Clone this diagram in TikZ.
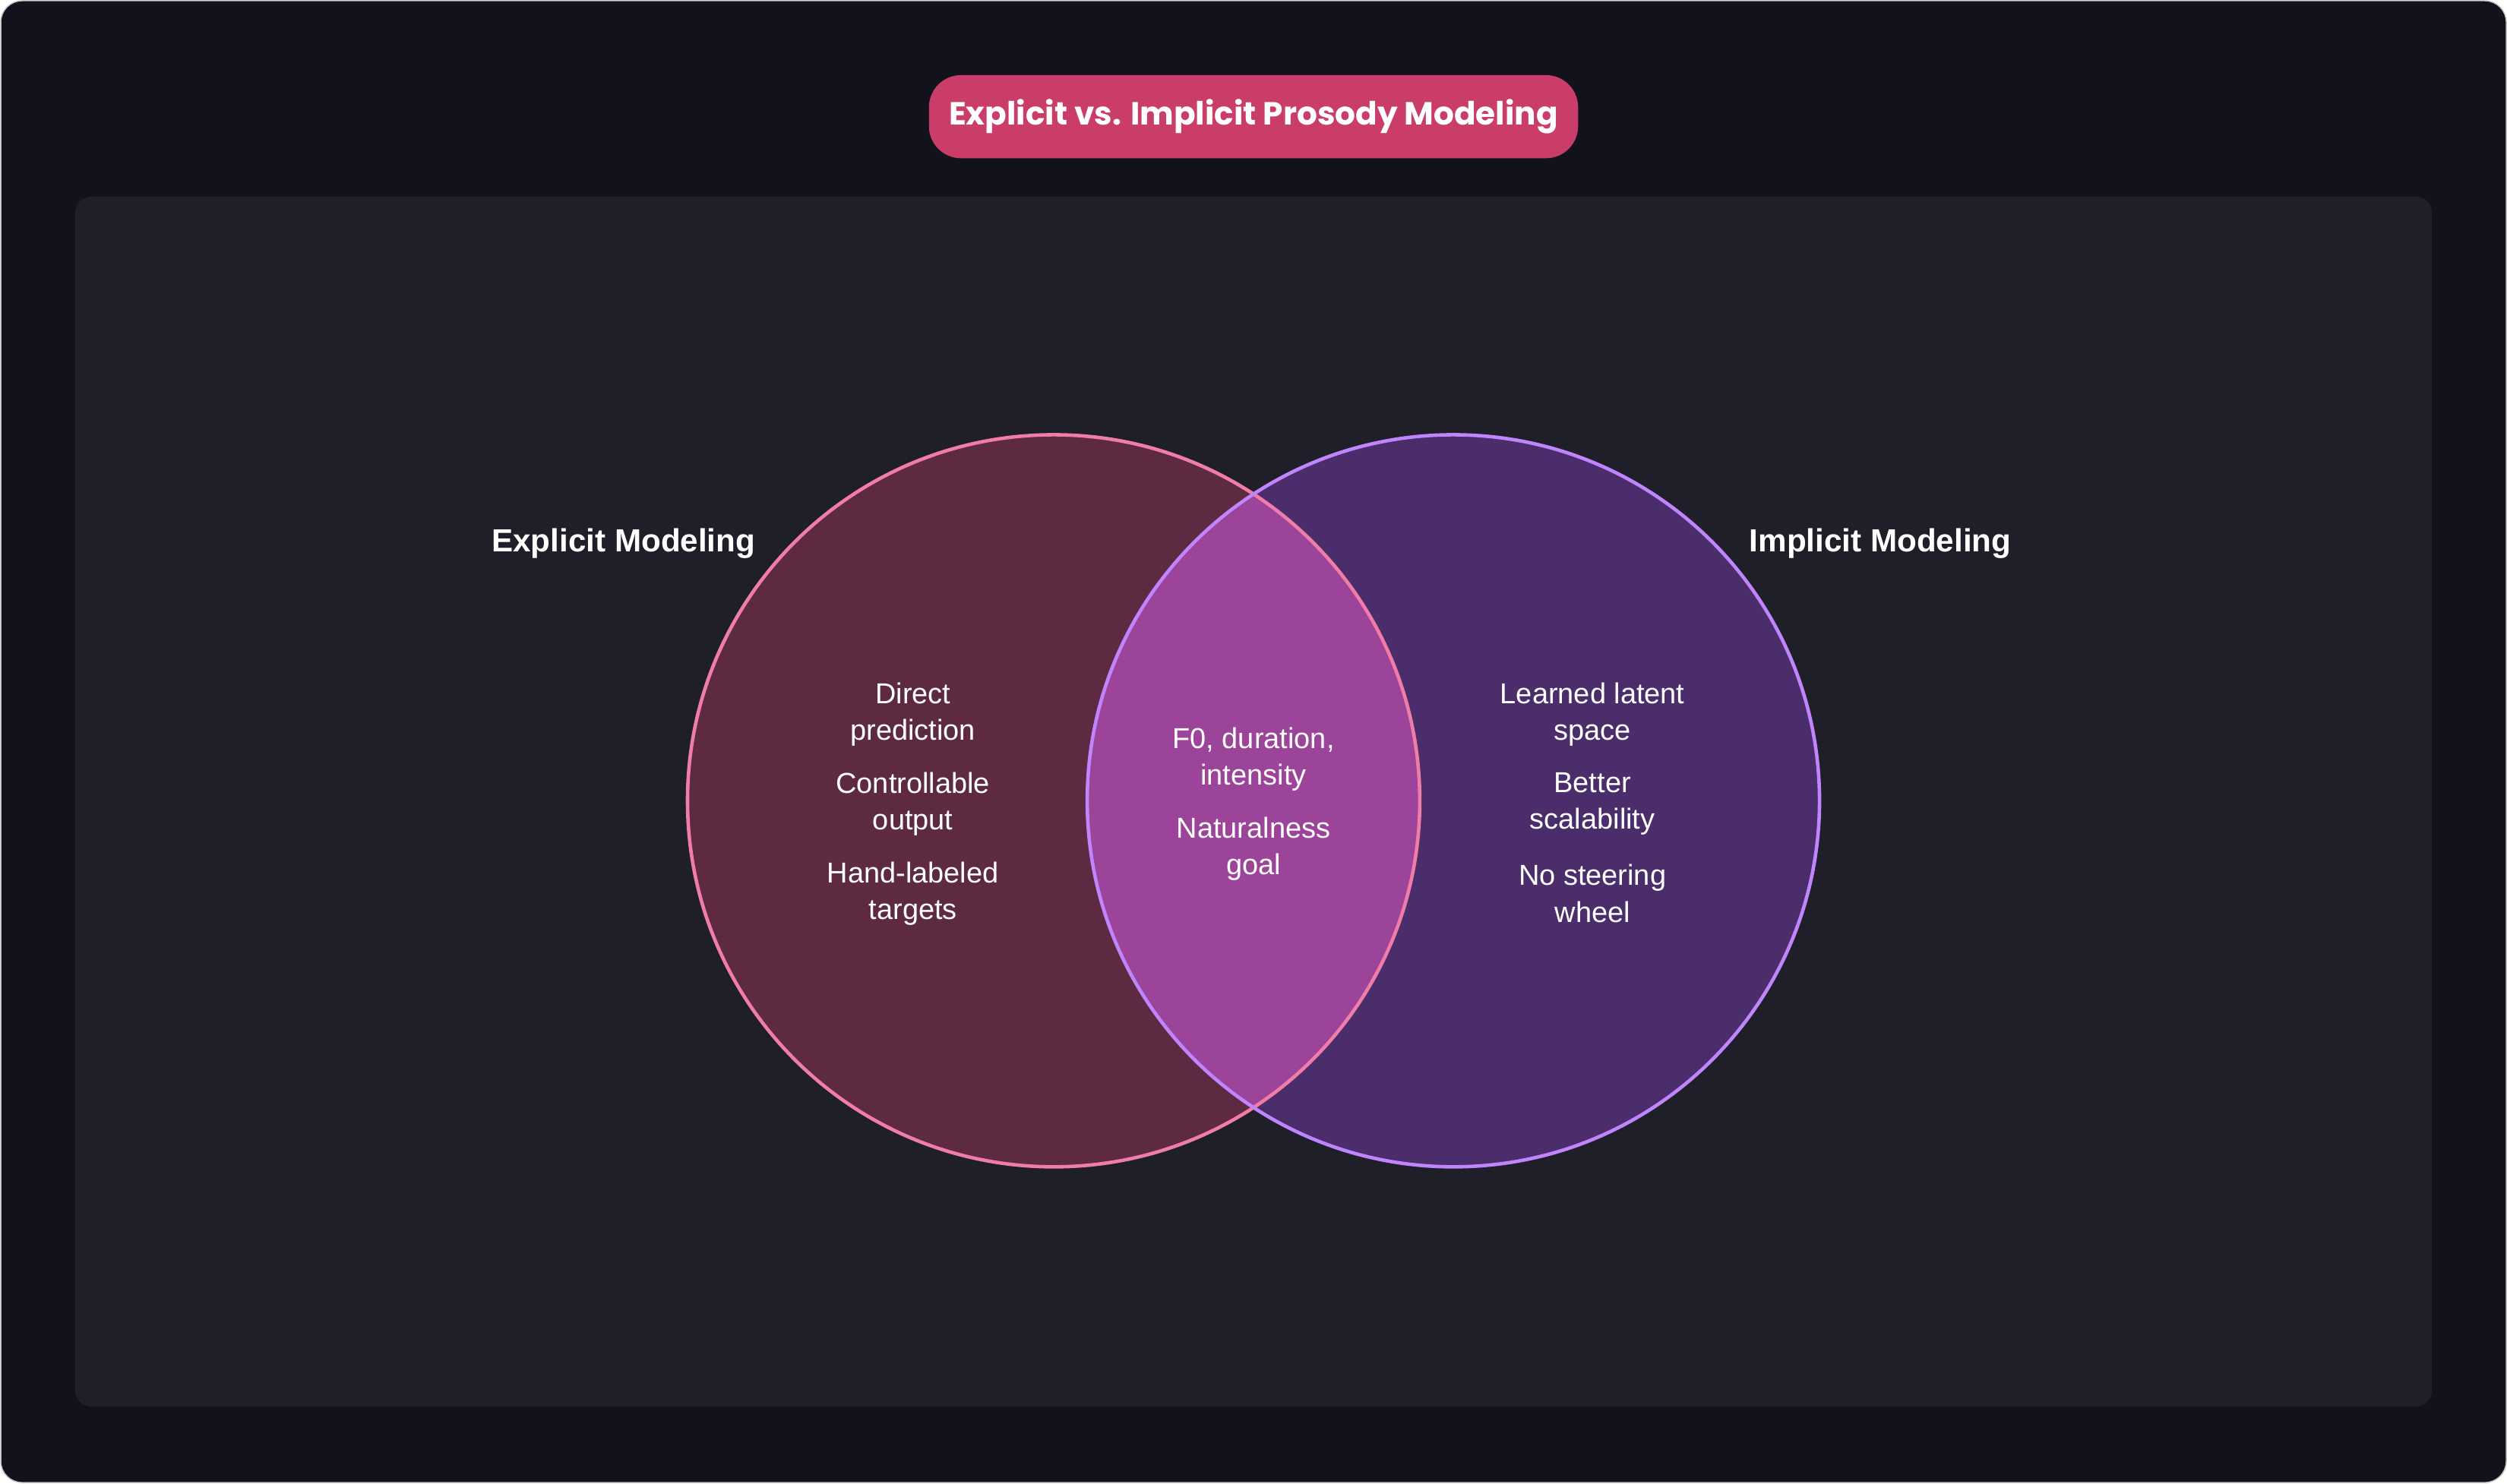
\documentclass[tikz,border=0pt]{standalone}
\usepackage{fontspec}
\setmainfont{Liberation Sans}
\newfontfamily\titlefont{Poppins}
\definecolor{pagebg}{HTML}{12121C}
\definecolor{panelbg}{HTML}{1E1F28}
\definecolor{pillred}{HTML}{C93D68}
\definecolor{explfill}{HTML}{5E2A42}
\definecolor{explline}{HTML}{F07CA8}
\definecolor{implfill}{HTML}{4A2D6A}
\definecolor{implline}{HTML}{C084FC}
\definecolor{bothfill}{HTML}{9B4499}
\begin{document}
\begin{tikzpicture}
    [
        x = 0.021047cm, y = -0.021047cm,
        item/.style = {text = white, align = center, font = \fontsize{10.8pt}{13.8pt}\selectfont},
        setlabel/.style = {text = white, font = \fontsize{12pt}{14pt}\selectfont\bfseries},
        ring/.style = {line width = 1.3pt}
    ]

        \useasboundingbox (0,0) rectangle (1568,928);
        \filldraw[fill = pagebg, draw = gray!50, rounded corners = 8pt] (0.5,0.5) rectangle (1567.5,927.5);
        \fill[panelbg, rounded corners = 6pt] (47,123) rectangle (1521,880);

        \node[fill = pillred, rounded corners = 12pt, minimum width = 406*0.021047cm,
            minimum height = 52*0.021047cm, text = white,
            font = \titlefont\fontsize{12pt}{14pt}\selectfont\bfseries] (title) at (784,73)
            {Explicit vs. Implicit Prosody Modeling};

        \coordinate (expl) at (659,501);
        \coordinate (impl) at (909,501);

        \fill[explfill] (expl) circle (229);
        \fill[implfill] (impl) circle (229);
        \begin{scope}
            \clip (expl) circle (229);
            \fill[bothfill] (impl) circle (229);
        \end{scope}
        \draw[ring, explline] (expl) circle (229);
        \draw[ring, implline] (impl) circle (229);

        \node[setlabel] (explname) at (390,340) {Explicit Modeling};
        \node[setlabel] (implname) at (1176,340) {Implicit Modeling};

        \node[item] (e1) at (571,447) {Direct\\prediction};
        \node[item] (e2) at (571,503) {Controllable\\output};
        \node[item] (e3) at (571,559) {Hand-labeled\\targets};

        \node[item] (b1) at (784,475) {F0, duration,\\intensity};
        \node[item] (b2) at (784,531) {Naturalness\\goal};

        \node[item] (i1) at (996,447) {Learned latent\\space};
        \node[item] (i2) at (996,503) {Better\\scalability};
        \node[item] (i3) at (996,559) {No steering\\wheel};
    \end{tikzpicture}
\end{document}
